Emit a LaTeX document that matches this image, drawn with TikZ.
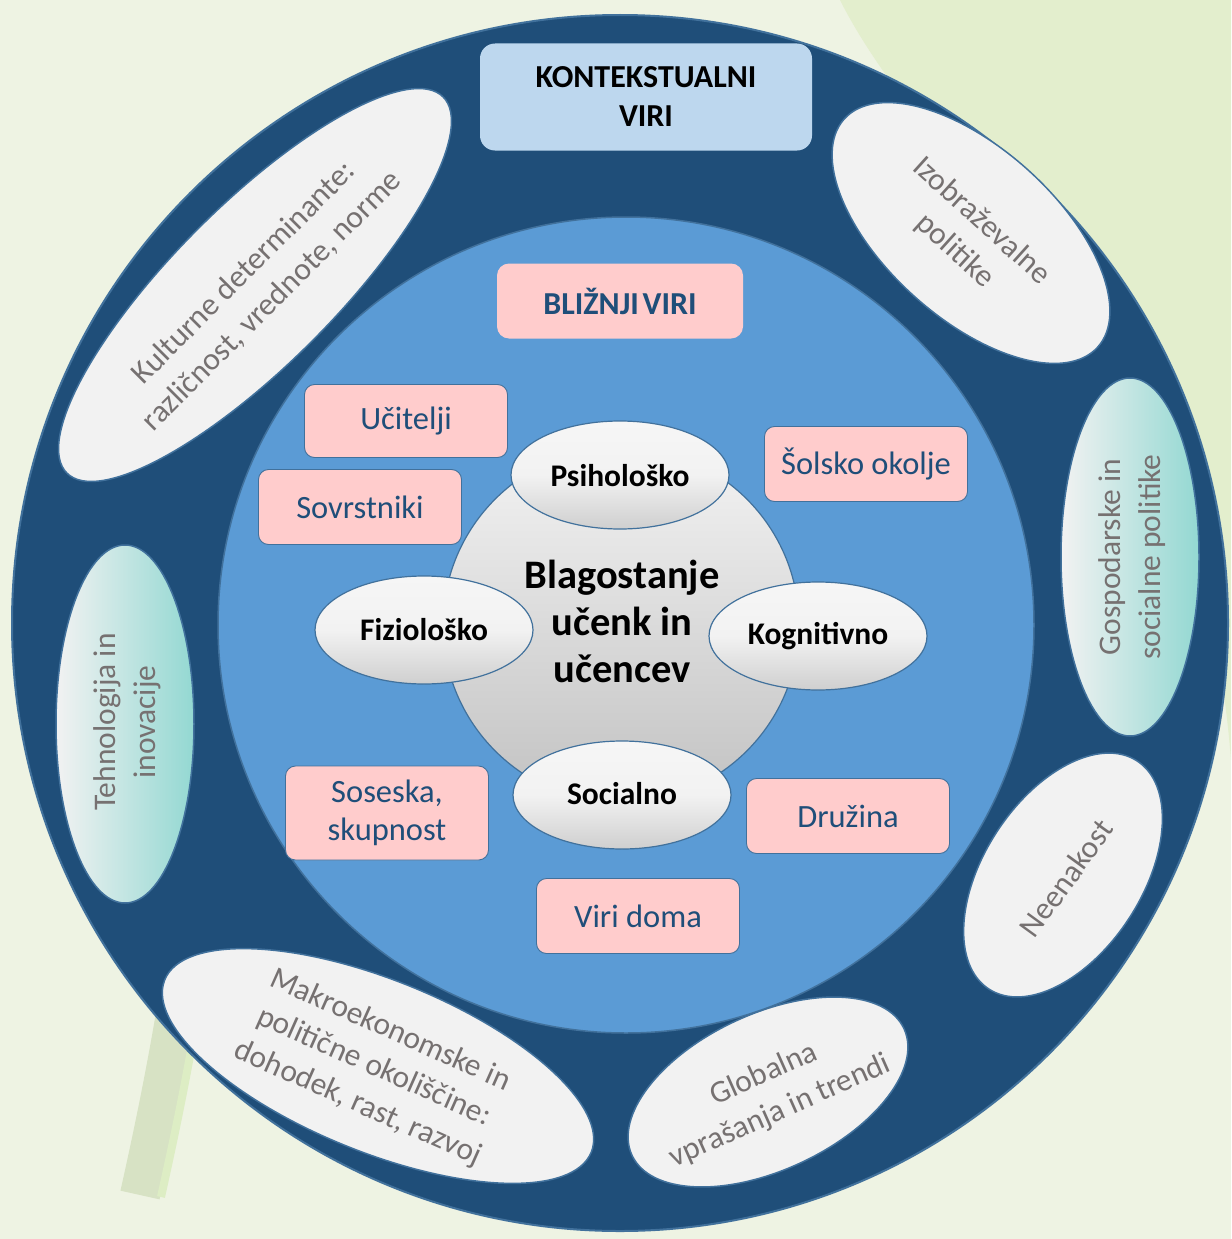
\documentclass[tikz,border=0pt]{standalone}
\usepackage{fontspec}
\setmainfont{Carlito}
\usetikzlibrary{shapes.geometric}
\definecolor{bg}{HTML}{EEF3E3}
\definecolor{bglight}{HTML}{E3EECD}
\definecolor{stalk}{HTML}{D7E2C4}
\definecolor{stalklight}{HTML}{DDEDC4}
\definecolor{ring}{HTML}{1F4E79}
\definecolor{edge}{HTML}{41719C}
\definecolor{inner}{HTML}{5B9BD5}
\definecolor{ell}{HTML}{F2F2F2}
\definecolor{grytxt}{HTML}{767171}
\definecolor{pinkfill}{HTML}{FFCCCC}
\definecolor{navy}{HTML}{1F4E79}
\definecolor{ctxfill}{HTML}{BDD7EE}
\definecolor{tealend}{HTML}{93D8D2}
\definecolor{coretop}{HTML}{F3F3F3}
\definecolor{corebot}{HTML}{C2C2C2}
\definecolor{elltop}{HTML}{F6F6F6}
\definecolor{ellbot}{HTML}{CFCFCF}
\begin{document}
\begin{tikzpicture}[x=1pt,y=-1pt,
  outerell/.style={ellipse, draw=edge, line width=1.5pt, fill=ell, inner sep=0pt},
  outertxt/.style={text=grytxt, align=center, font=\fontsize{31.5}{40}\selectfont, inner sep=0pt},
  innerell/.style={ellipse, draw=edge, line width=1.2pt, top color=elltop, bottom color=ellbot, middle color=ell, minimum width=218pt, minimum height=108pt, inner sep=0pt},
  innertxt/.style={font=\bfseries\fontsize{31.5}{38}\selectfont, inner sep=0pt},
  pinkbox/.style={rectangle, rounded corners=10pt, draw=edge, line width=0.9pt, fill=pinkfill, text=navy, minimum width=203pt, minimum height=75pt, font=\fontsize{32.5}{38}\selectfont, align=center, inner sep=0pt},
]
\useasboundingbox (0,0) rectangle (1231,1239);
% background
\fill[bg] (0,0) rectangle (1231,1239);
\fill[bglight] (840,0) -- (1231,0) -- (1231,760) .. controls (1215,560) and (1150,360) .. (1010,220) .. controls (930,140) and (870,60) .. (840,0) -- cycle;
\draw[stalk, line width=40pt] (175,1020) .. controls (163,1090) and (150,1150) .. (140,1195);
\draw[stalklight, line width=8pt] (196,1022) .. controls (184,1092) and (171,1152) .. (161,1197);

% outer ring
\node[circle, fill=ring, draw=edge, line width=2pt, minimum size=1216pt, inner sep=0pt] (ringc) at (620,623) {};

% outer ellipses
\node[outerell, rotate=45, minimum width=532pt, minimum height=160pt] (kult) at (255,285) {};
\node[outertxt, rotate=45] (kultt) at (258,287) {Kulturne determinante:\\različnost, vrednote, norme};

\node[outerell, rotate=-42, minimum width=341pt, minimum height=170pt] (izo) at (971,233) {};
\node[outertxt, rotate=-42] (izot) at (968,236) {Izobraževalne\\politike};

\node[ellipse, draw=edge, line width=1.5pt, inner sep=0pt, left color=ell, middle color=ell, right color=tealend, minimum width=138pt, minimum height=358pt] (gosp) at (1130,557) {};
\node[outertxt, rotate=90] (gospt) at (1132,557) {Gospodarske in\\socialne politike};

\node[outerell, rotate=57, minimum width=272pt, minimum height=158pt] (neen) at (1063,875) {};
\node[outertxt, rotate=54] (neent) at (1066,878) {Neenakost};

\node[outerell, rotate=25, minimum width=300pt, minimum height=156pt] (glob) at (768,1092) {};
\node[outertxt, rotate=24] (globt) at (772,1093) {Globalna\\vprašanja in trendi};

\node[outerell, rotate=-22, minimum width=460pt, minimum height=172pt] (makro) at (378,1066) {};
\node[outertxt, rotate=-24] (makrot) at (374,1067) {Makroekonomske in\\politične okoliščine:\\dohodek, rast, razvoj};

\node[ellipse, draw=edge, line width=1.5pt, inner sep=0pt, left color=ell, middle color=ell, right color=tealend, minimum width=138pt, minimum height=358pt] (tehn) at (125,724) {};
\node[outertxt, rotate=90] (tehnt) at (127,722) {Tehnologija in\\inovacije};

% contextual box
\node[rectangle, rounded corners=15pt, fill=ctxfill, minimum width=332pt, minimum height=107pt, inner sep=0pt, align=center, font=\bfseries\fontsize{32}{39}\selectfont] (ctx) at (646,97) {KONTEKSTUALNI\\VIRI};

% inner circle
\node[circle, fill=inner, draw=edge, line width=1.5pt, minimum size=816pt, inner sep=0pt] (innerc) at (626,625) {};

% proximal header
\node[rectangle, rounded corners=12pt, fill=pinkfill, minimum width=246pt, minimum height=75pt, inner sep=0pt, text=navy, font=\bfseries\fontsize{32}{36}\selectfont] (bliz) at (620,301) {BLIŽNJI\hspace{0.12em}VIRI};

% core
\node[circle, draw=edge, line width=1.2pt, top color=coretop, middle color=ell, bottom color=corebot, minimum size=356pt, inner sep=0pt] (core) at (621,625) {};
\node[align=center, inner sep=0pt, font=\bfseries\fontsize{40.5}{47}\selectfont] (coret) at (622,621) {Blagostanje\\učenk in\\učencev};

% dimension ellipses
\node[innerell] (psi) at (620,475) {};
\node[innertxt] (psit) at (620,476) {Psihološko};
\node[innerell] (fiz) at (424,630) {};
\node[innertxt] (fizt) at (424,630) {Fiziološko};
\node[innerell] (kog) at (818,636) {};
\node[innertxt] (kogt) at (818,636) {Kognitivno};
\node[innerell] (soc) at (622,795) {};
\node[innertxt] (soct) at (622,794) {Socialno};

% pink boxes
\node[pinkbox, minimum height=73pt] (uci) at (406,421) {Učitelji};
\node[pinkbox] (sov) at (360,507) {Sovrstniki};
\node[pinkbox] (sol) at (866,464) {Šolsko okolje};
\node[pinkbox, minimum height=94pt] (sos) at (387,813) {Soseska,\\skupnost};
\node[pinkbox] (dru) at (848,816) {Družina};
\node[pinkbox] (dom) at (638,916) {Viri doma};
\end{tikzpicture}
\end{document}
